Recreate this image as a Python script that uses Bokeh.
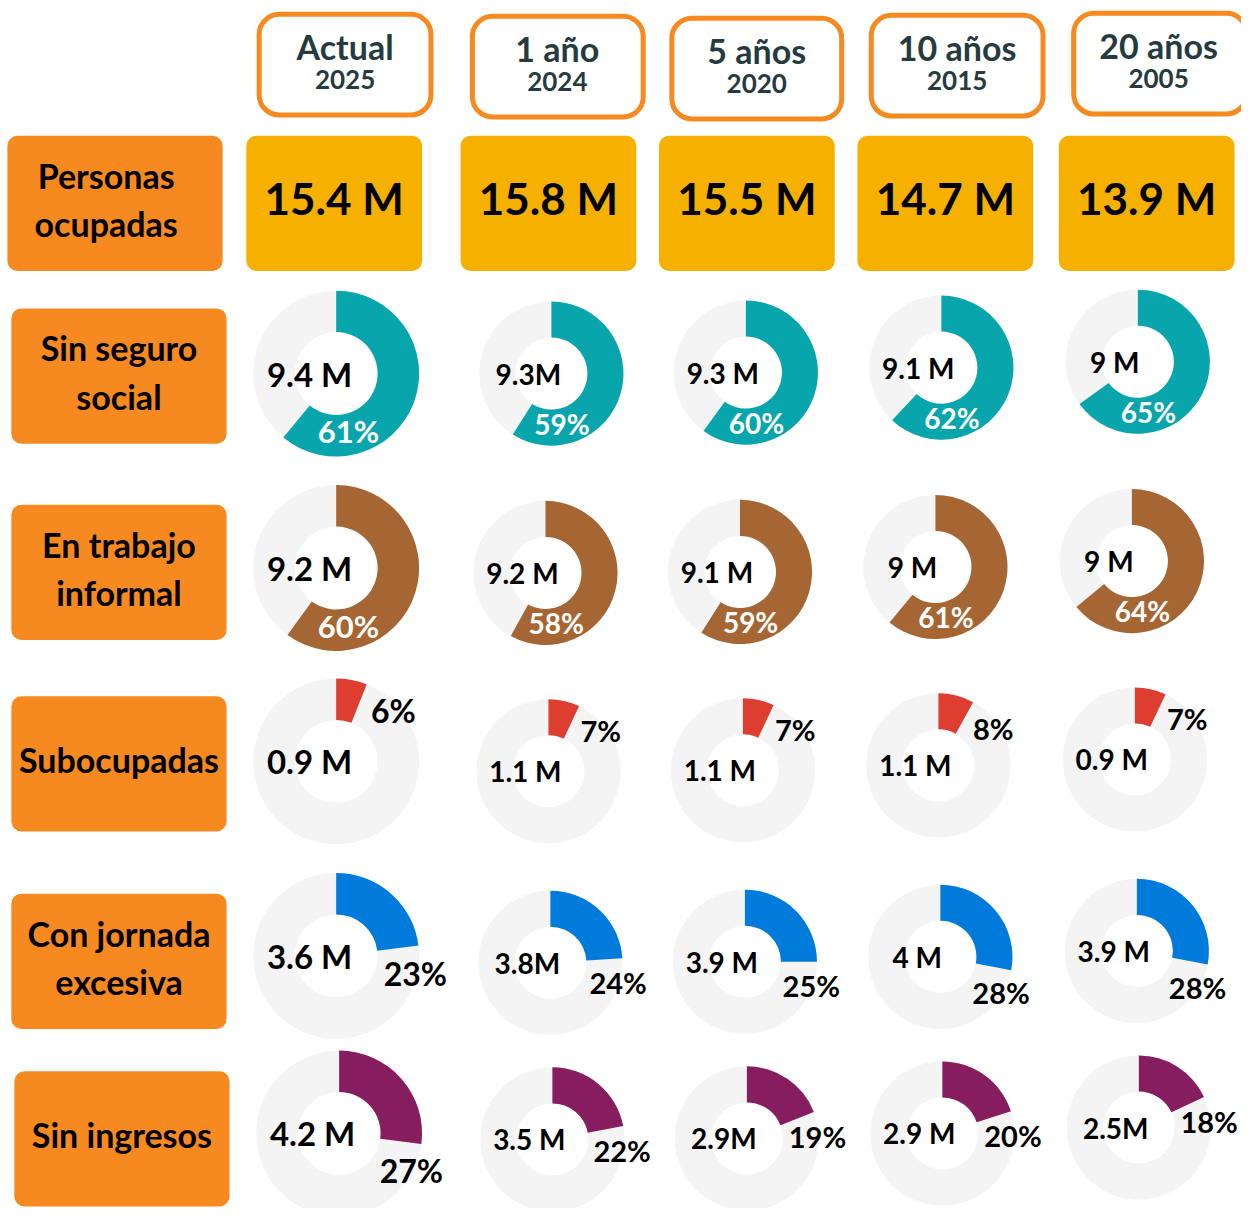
import math
from bokeh.plotting import figure
from bokeh.core.properties import value
from bokeh.embed import file_html
from bokeh.resources import INLINE

# ---------------- data ----------------
periods = ["Actual", "1 año", "5 años", "10 años", "20 años"]
years = ["2025", "2024", "2020", "2015", "2005"]
occupied = ["15.4 M", "15.8 M", "15.5 M", "14.7 M", "13.9 M"]
first_label = ["Personas", "ocupadas"]
row_labels = [["Sin seguro", "social"], ["En trabajo", "informal"], ["Subocupadas"],
              ["Con jornada", "excesiva"], ["Sin ingresos"]]

sin_seguro_pct = [61, 59, 60, 62, 65]
sin_seguro_val = ["9.4 M", "9.3M", "9.3 M", "9.1 M", "9 M"]
informal_pct = [60, 58, 59, 61, 64]
informal_val = ["9.2 M", "9.2 M", "9.1 M", "9 M", "9 M"]
subocup_pct = [6, 7, 7, 8, 7]
subocup_val = ["0.9 M", "1.1 M", "1.1 M", "1.1 M", "0.9 M"]
jornada_pct = [23, 24, 25, 28, 28]
jornada_val = ["3.6 M", "3.8M", "3.9 M", "4 M", "3.9 M"]
ingresos_pct = [27, 22, 19, 20, 18]
ingresos_val = ["4.2 M", "3.5 M", "2.9M", "2.9 M", "2.5M"]

row_pcts = [sin_seguro_pct, informal_pct, subocup_pct, jornada_pct, ingresos_pct]
row_vals = [sin_seguro_val, informal_val, subocup_val, jornada_val, ingresos_val]

# ---------------- style ----------------
ORANGE = "#F6891F"
YELLOW = "#F5B000"
GREY = "#F4F4F4"
HEAD = "#263B40"
row_colors = ["#08A6AC", "#A66633", "#DE3E30", "#007BDB", "#861D5E"]
FONT = value("Lato")

# ---------------- layout (reference pixel space) ----------------
head_l = [262, 478, 680, 882, 1087]
head_r = [436, 651, 852, 1056, 1262]
head_cx = [349, 564, 766, 969, 1173]
head_t = [14, 16, 18, 15, 13]
head_h = 102

yel_l = [249, 466, 667, 868, 1072]
box_w = 178
box_t = 137
box_h = 137

lab_l = [7, 11, 11, 11, 11, 14]
lab_t = [137, 312, 511, 705, 905, 1085]
lab_w = 218

col_x = [340, 557, 754, 952, 1151]
col_dy = [0, 0, -1, -6, -12]
row_cy = [378, 580, 781, 975, 1154]
row_dx = [1, -5, -2, 0, 2]
first_cy = [378, 575, 771, 968, 1148]
first_dx = [0, 0, 0, 0, 3]
R_BIG, R_SMALL = 84, 73

W, H = 1241, 1208
p = figure(width=W, height=H, x_range=(0, 1257), y_range=(-1224, 0),
           output_backend="svg", toolbar_location=None, min_border=0)
p.axis.visible = False
p.grid.visible = False
p.outline_line_color = None
p.background_fill_color = "white"


def Y(v):
    return -v


def txt(x, y, s, size, color="black", align="center"):
    p.text(x=[x], y=[Y(y)], text=[s], text_font=FONT, text_font_style="bold",
           text_font_size=f"{size}px", text_color=color, text_align=align,
           text_baseline="middle")


# header boxes
p.quad(left=head_l, right=head_r, top=[Y(t) for t in head_t],
       bottom=[Y(t + head_h) for t in head_t], fill_color="white",
       line_color=ORANGE, line_width=5, border_radius=20)
for i in range(5):
    txt(head_cx[i], head_t[i] + 33, periods[i], 34, HEAD)
    txt(head_cx[i], head_t[i] + 66, years[i], 26, HEAD)

# yellow value boxes
p.quad(left=yel_l, right=[l + box_w for l in yel_l], top=[Y(box_t)] * 5,
       bottom=[Y(box_t + box_h)] * 5, fill_color=YELLOW, line_color=None,
       border_radius=10)
for i in range(5):
    txt(yel_l[i] + box_w / 2, box_t + 63, occupied[i], 44)

# row label boxes
p.quad(left=lab_l, right=[l + lab_w for l in lab_l], top=[Y(t) for t in lab_t],
       bottom=[Y(t + box_h) for t in lab_t], fill_color=ORANGE, line_color=None,
       border_radius=10)
all_labels = [first_label] + row_labels
for k, lines in enumerate(all_labels):
    cx = lab_l[k] + lab_w / 2 - (9 if k == 0 else 0)
    cy = lab_t[k] + box_h / 2 - 4
    if len(lines) == 2:
        txt(cx, cy - 24.5, lines[0], 34)
        txt(cx, cy + 24.5, lines[1], 34)
    else:
        txt(cx, cy, lines[0], 34)

# donuts
for r in range(5):
    for c in range(5):
        if c == 0:
            cx = col_x[0] + first_dx[r]
            cy = first_cy[r]
            R = R_BIG
        else:
            cx = col_x[c] + row_dx[r]
            cy = row_cy[r] + col_dy[c]
            R = R_SMALL
        frac = row_pcts[r][c] / 100.0
        p.annulus(x=[cx], y=[Y(cy)], inner_radius=R / 2, outer_radius=R,
                  fill_color=GREY, line_color=None)
        p.annular_wedge(x=[cx], y=[Y(cy)], inner_radius=R / 2, outer_radius=R,
                        start_angle=math.pi / 2 - frac * 2 * math.pi,
                        end_angle=math.pi / 2, fill_color=row_colors[r],
                        line_color=None)
        big = c == 0
        # value label
        txt(cx - 0.32 * R, cy, row_vals[r][c], 33 if big else 28)
        # percent label
        end_deg = frac * 360
        if r < 2:
            a, rr, col = 168, 0.71 * R, "white"
            fs = 31 if big else 28
        elif r == 2:
            a, rr, col = end_deg + 27, 0.92 * R, "black"
            fs = 32 if big else 29
        else:
            a, rr, col = end_deg + 20, 0.98 * R, "black"
            fs = 32 if big else 29
        ar = math.radians(a)
        lx = cx + rr * math.sin(ar)
        ly = cy - rr * math.cos(ar)
        txt(lx, ly, f"{row_pcts[r][c]}%", fs, col)

open("out.html", "w").write(file_html(p, INLINE))
